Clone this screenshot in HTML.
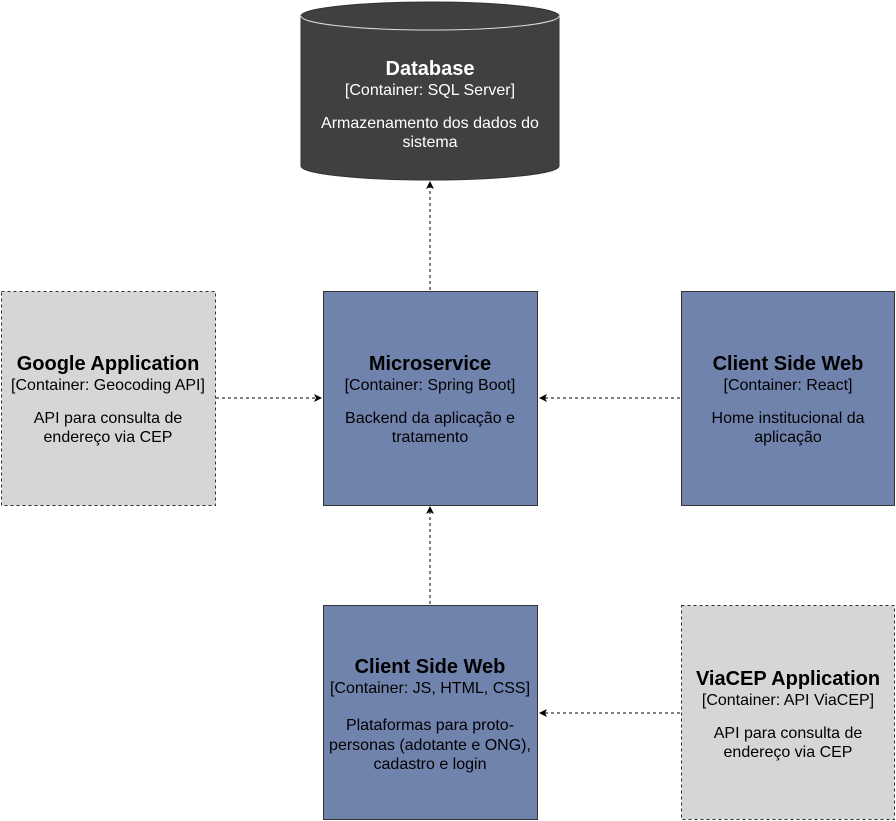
<!DOCTYPE html>
<html><head><meta charset="utf-8"><style>body{margin:0;background:#fff}svg{display:block}text{font-family:"Liberation Sans",Arial,sans-serif;text-anchor:middle}</style></head><body>
<svg width="896" height="821" viewBox="0 0 896 821">
<defs><marker id="a" markerWidth="8" markerHeight="8" refX="7" refY="4" orient="auto" markerUnits="userSpaceOnUse"><path d="M0,0 L8,4 L0,8 L2,4z" fill="#000"/></marker></defs>
<path d="M301,16 A129,14 0 0 1 559,16 L559,166 A129,14 0 0 1 301,166 Z" fill="#404040" stroke="#333"/>
<path d="M301,16 A129,14 0 0 0 559,16" fill="none" stroke="#ddd" stroke-width="1"/>
<text x="430" y="75" font-size="20" font-weight="bold" fill="#fff">Database</text>
<text x="430" y="95" font-size="16" fill="#fff">[Container: SQL Server]</text>
<text x="430" y="128" font-size="16" fill="#fff">Armazenamento dos dados do</text>
<text x="430" y="147" font-size="16" fill="#fff">sistema</text>
<g stroke="#000" stroke-dasharray="3,3" fill="none">
<line x1="430" y1="290" x2="430" y2="182" marker-end="url(#a)"/>
<line x1="216" y1="398" x2="321" y2="398" marker-end="url(#a)"/>
<line x1="680" y1="398" x2="540" y2="398" marker-end="url(#a)"/>
<line x1="430" y1="604" x2="430" y2="507" marker-end="url(#a)"/>
<line x1="680" y1="713" x2="540" y2="713" marker-end="url(#a)"/>
</g>
<rect x="1.5" y="291.5" width="214" height="214" fill="#d6d6d6" stroke="#333" stroke-dasharray="3,3"/>
<rect x="323.5" y="291.5" width="214" height="214" fill="#7083ad" stroke="#333"/>
<rect x="681.5" y="291.5" width="213" height="214" fill="#7083ad" stroke="#333"/>
<rect x="323.5" y="605.5" width="214" height="214" fill="#7083ad" stroke="#333"/>
<rect x="681.5" y="605.5" width="213" height="214" fill="#d6d6d6" stroke="#333" stroke-dasharray="3,3"/>
<g fill="#000">
<text x="108" y="370" font-size="20" font-weight="bold">Google Application</text>
<text x="108" y="390" font-size="16">[Container: Geocoding API]</text>
<text x="108" y="423" font-size="16">API para consulta de</text>
<text x="108" y="442" font-size="16">endereço via CEP</text>
<text x="430" y="370" font-size="20" font-weight="bold">Microservice</text>
<text x="430" y="390" font-size="16">[Container: Spring Boot]</text>
<text x="430" y="423" font-size="16">Backend da aplicação e</text>
<text x="430" y="442" font-size="16">tratamento</text>
<text x="788" y="370" font-size="20" font-weight="bold">Client Side Web</text>
<text x="788" y="390" font-size="16">[Container: React]</text>
<text x="788" y="423" font-size="16">Home institucional da</text>
<text x="788" y="442" font-size="16">aplicação</text>
<text x="430" y="673" font-size="20" font-weight="bold">Client Side Web</text>
<text x="430" y="693" font-size="16">[Container: JS, HTML, CSS]</text>
<text x="430" y="730" font-size="16">Plataformas para proto-</text>
<text x="430" y="750" font-size="16">personas (adotante e ONG),</text>
<text x="430" y="769" font-size="16">cadastro e login</text>
<text x="788" y="685" font-size="20" font-weight="bold">ViaCEP Application</text>
<text x="788" y="705" font-size="16">[Container: API ViaCEP]</text>
<text x="788" y="738" font-size="16">API para consulta de</text>
<text x="788" y="757" font-size="16">endereço via CEP</text>
</g>
</svg>
</body></html>
